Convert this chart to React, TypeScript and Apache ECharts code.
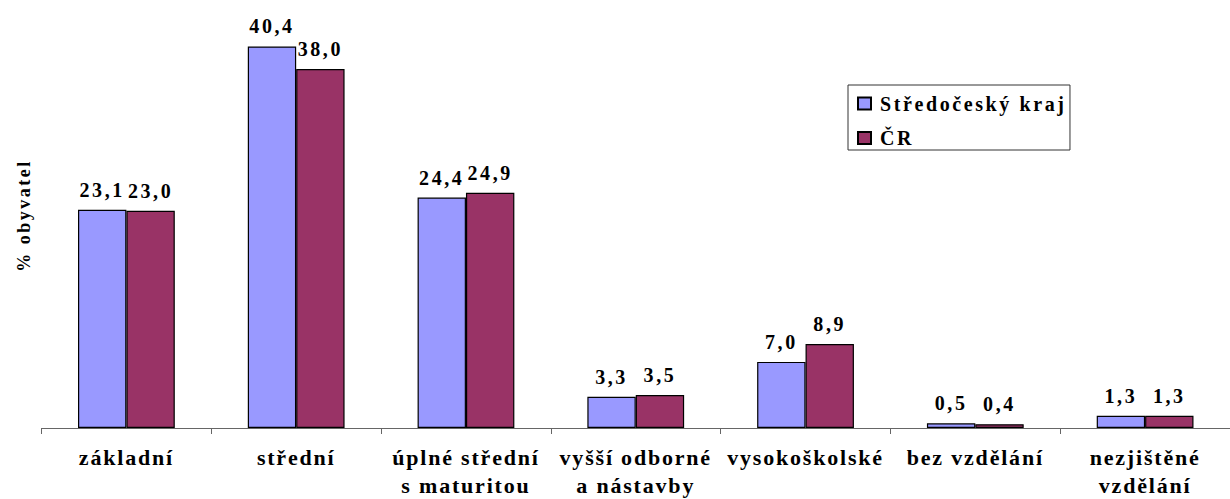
import React, { useEffect, useRef } from "react";
import * as echarts from "echarts";

const categories = [
  "základní",
  "střední",
  "úplné střední\ns maturitou",
  "vyšší odborné\na nástavby",
  "vysokoškolské",
  "bez vzdělání",
  "nezjištěné\nvzdělání",
];
const seriesNames = ["Středočeský kraj", "ČR"];
const krajValues = [23.1, 40.4, 24.4, 3.3, 7.0, 0.5, 1.3];
const crValues = [23.0, 38.0, 24.9, 3.5, 8.9, 0.4, 1.3];
const yAxisTitle = "% obyvatel";

const FONT = "Liberation Serif";

export default function App() {
  const ref = useRef<HTMLDivElement>(null);
  useEffect(() => {
    if (!ref.current) return;
    const chart = echarts.init(ref.current, null, { renderer: "svg" });
    const labelCfg = {
      show: true,
      position: "top",
      distance: 10,
      color: "#000",
      fontFamily: FONT,
      fontWeight: "bold",
      fontSize: 20,
      formatter: (p: any) => Number(p.value).toFixed(1).replace(".", ","),
    };
    chart.setOption({
      animation: false,
      backgroundColor: "#ffffff",
      grid: { left: 41.5, right: -11.5, top: 3, bottom: 66 },
      legend: {
        orient: "vertical",
        left: 848,
        top: 85,
        padding: [7.5, 45, 1, 9],
        itemGap: 12.5,
        itemWidth: 13,
        itemHeight: 12,
        icon: "rect",
        borderColor: "#333",
        borderWidth: 1,
        backgroundColor: "#fff",
        textStyle: {
          fontFamily: FONT,
          fontWeight: "bold",
          fontSize: 20,
          lineHeight: 22,
          color: "#000",
          padding: [0, 0, 0, 4],
        },
        data: seriesNames,
      },
      xAxis: {
        type: "category",
        data: categories,
        axisLine: { lineStyle: { color: "#666", width: 1 } },
        axisTick: { show: true, length: 6, lineStyle: { color: "#666" } },
        axisLabel: {
          interval: 0,
          margin: 15,
          color: "#000",
          fontFamily: FONT,
          fontWeight: "bold",
          fontSize: 22,
          lineHeight: 28,
        },
      },
      yAxis: {
        type: "value",
        min: 0,
        max: 45,
        name: yAxisTitle,
        nameLocation: "middle",
        nameGap: 9,
        nameTextStyle: {
          fontFamily: FONT,
          fontWeight: "bold",
          fontSize: 18,
          color: "#000",
        },
        axisLine: { show: false },
        axisTick: { show: false },
        axisLabel: { show: false },
        splitLine: { show: false },
      },
      series: [
        {
          name: seriesNames[0],
          type: "bar",
          data: krajValues,
          barGap: "0%",
          barCategoryGap: "43%",
          itemStyle: { color: "#9999FF", borderColor: "#000", borderWidth: 1.2 },
          label: labelCfg,
        },
        {
          name: seriesNames[1],
          type: "bar",
          data: crValues,
          barGap: "0%",
          barCategoryGap: "43%",
          itemStyle: { color: "#993366", borderColor: "#000", borderWidth: 1.2 },
          label: labelCfg,
        },
      ],
    });
    return () => chart.dispose();
  }, []);
  return (
    <>
      <style>{`
        #chartbox text { font-family: "Liberation Serif", "Times New Roman", serif; }
        #chartbox text[style*="22px"] { letter-spacing: 1.8px; }
        #chartbox text[style*="20px"] { letter-spacing: 2.6px; }
        #chartbox text[style*="18px"] { letter-spacing: 2.5px; }
      `}</style>
      <div
        id="chartbox"
        ref={ref}
        style={{ position: "fixed", left: 0, top: 0, width: 1230, height: 499 }}
      />
    </>
  );
}
